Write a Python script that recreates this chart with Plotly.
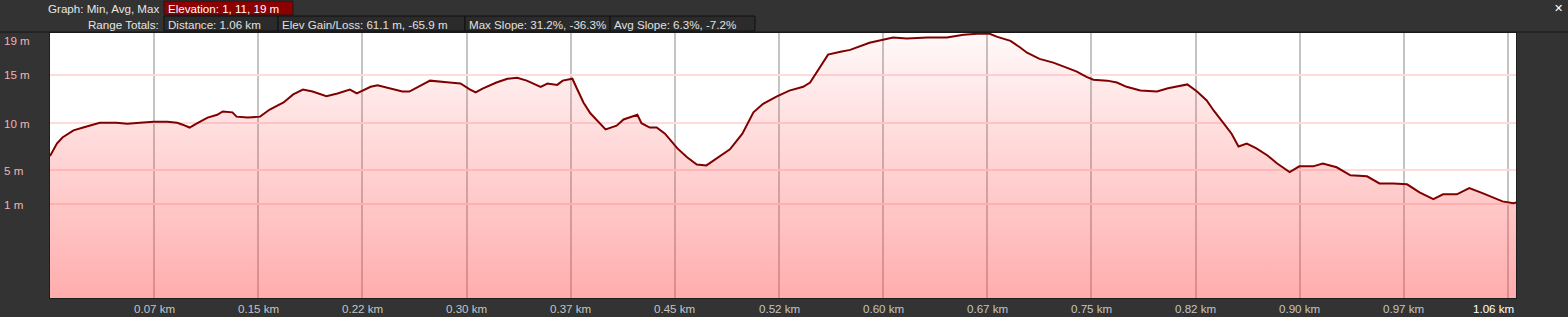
import plotly.graph_objects as go

# ---------------- data ----------------
distance_km = [0.000, 0.005, 0.009, 0.017, 0.024, 0.031, 0.036, 0.048, 0.056, 0.065,
               0.075, 0.085, 0.092, 0.096, 0.101, 0.106, 0.114, 0.121, 0.125, 0.132,
               0.135, 0.143, 0.152, 0.159, 0.169, 0.176, 0.183, 0.190, 0.200, 0.208,
               0.217, 0.222, 0.232, 0.237, 0.248, 0.255, 0.260, 0.268, 0.275, 0.289,
               0.297, 0.304, 0.308, 0.313, 0.323, 0.331, 0.338, 0.345, 0.355, 0.360,
               0.367, 0.371, 0.378, 0.381, 0.386, 0.391, 0.402, 0.410, 0.415, 0.425,
               0.428, 0.434, 0.439, 0.445, 0.454, 0.461, 0.468, 0.475, 0.480, 0.492,
               0.501, 0.509, 0.516, 0.526, 0.535, 0.545, 0.550, 0.557, 0.563, 0.572,
               0.579, 0.593, 0.603, 0.610, 0.620, 0.635, 0.649, 0.661, 0.671, 0.680,
               0.685, 0.695, 0.702, 0.707, 0.716, 0.726, 0.736, 0.743, 0.750, 0.755,
               0.765, 0.772, 0.779, 0.789, 0.801, 0.809, 0.823, 0.830, 0.837, 0.842,
               0.849, 0.855, 0.860, 0.866, 0.873, 0.881, 0.888, 0.897, 0.904, 0.914,
               0.921, 0.931, 0.941, 0.953, 0.962, 0.972, 0.982, 0.991, 1.001, 1.008,
               1.018, 1.027, 1.037, 1.044, 1.051, 1.059, 1.061]
elevation_m = [6.1, 7.4, 8.05, 8.8, 9.1, 9.4, 9.6, 9.6, 9.5, 9.6,
               9.7, 9.7, 9.6, 9.4, 9.1, 9.5, 10.15, 10.45, 10.8, 10.7,
               10.25, 10.15, 10.25, 11.0, 11.75, 12.6, 13.1, 12.9, 12.4, 12.7,
               13.1, 12.7, 13.4, 13.55, 13.2, 12.9, 12.9, 13.55, 14.05, 13.85,
               13.75, 13.1, 12.8, 13.2, 13.85, 14.25, 14.35, 14.05, 13.4, 13.75,
               13.6, 14.05, 14.25, 13.3, 11.75, 10.6, 8.9, 9.3, 9.95, 10.45,
               9.55, 9.1, 9.1, 8.45, 6.9, 5.95, 5.2, 5.1, 5.6, 6.8,
               8.45, 10.7, 11.6, 12.4, 13.0, 13.4, 13.85, 15.4, 16.8, 17.1,
               17.3, 18.05, 18.35, 18.6, 18.5, 18.6, 18.6, 18.9, 19.0, 19.0,
               18.7, 18.25, 17.55, 17.0, 16.35, 15.95, 15.4, 15.0, 14.45, 14.15,
               14.05, 13.85, 13.4, 13.0, 12.9, 13.25, 13.65, 12.9, 11.95, 10.9,
               9.6, 8.45, 7.1, 7.4, 6.9, 6.15, 5.3, 4.4, 5.0, 5.0,
               5.3, 4.9, 4.05, 3.95, 3.2, 3.2, 3.1, 2.25, 1.55, 2.05,
               2.05, 2.7, 2.15, 1.75, 1.3, 1.1, 1.2]

x_tick_km = [0.07536 * i for i in range(1, 15)]
x_tick_text = ["0.07 km", "0.15 km", "0.22 km", "0.30 km", "0.37 km", "0.45 km",
               "0.52 km", "0.60 km", "0.67 km", "0.75 km", "0.82 km", "0.90 km",
               "0.97 km", "1.06 km"]
y_tick_m = [14.68, 9.53, 4.58, 1.0]
y_tick_text = ["15 m", "10 m", "5 m", "1 m"]
y_top_label = "19 m"
y_top_m = 19.0
y_bottom_m = -8.9
x_end_km = 1.0608

header_graph = "Graph: Min, Avg, Max"
header_elev = "Elevation: 1, 11, 19 m"
header_range = "Range Totals:"
range_boxes = ["Distance: 1.06 km", "Elev Gain/Loss: 61.1 m, -65.9 m",
               "Max Slope: 31.2%, -36.3%", "Avg Slope: 6.3%, -7.2%"]

# ---------------- layout geometry (pixels) ----------------
W, H = 1568, 317
L, R, T, B = 50, 1516, 33, 298
FONT = "Liberation Sans, Arial, sans-serif"
FS = 11.6


def pxx(x):
    return (x - L) / (R - L)


def pxy(y):
    return (B - y) / (B - T)


fig = go.Figure()

# baseline for the fill (bottom of plot)
fig.add_trace(go.Scatter(
    x=[distance_km[0], distance_km[-1]], y=[y_bottom_m, y_bottom_m],
    mode="lines", line=dict(width=0, color="rgba(0,0,0,0)"),
    hoverinfo="skip", showlegend=False))

fig.add_trace(go.Scatter(
    x=distance_km, y=elevation_m, mode="lines",
    line=dict(color="#800000", width=2),
    fill="tonexty",
    fillgradient=dict(type="vertical",
                      colorscale=[[0, "rgba(255,60,60,0.42)"],
                                  [1, "rgba(255,60,60,0.03)"]],
                      start=y_bottom_m, stop=y_top_m),
    showlegend=False))

shapes = []
annotations = []

# separator line under header
shapes.append(dict(type="line", xref="paper", yref="paper",
                   x0=pxx(0), x1=pxx(W), y0=pxy(32), y1=pxy(32),
                   line=dict(color="#151515", width=1)))

# header row 1
annotations.append(dict(xref="paper", yref="paper", x=pxx(161), y=pxy(8),
                        xanchor="right", yanchor="middle", showarrow=False,
                        text=header_graph, font=dict(family=FONT, size=FS, color="#e6e6e6")))
shapes.append(dict(type="rect", xref="paper", yref="paper",
                   x0=pxx(164), x1=pxx(293), y0=pxy(15), y1=pxy(1),
                   fillcolor="#8b0000", line=dict(color="#1a1a1a", width=1)))
annotations.append(dict(xref="paper", yref="paper", x=pxx(166), y=pxy(8),
                        xanchor="left", yanchor="middle", showarrow=False,
                        text=header_elev, font=dict(family=FONT, size=FS, color="#ffffff")))

# header row 2
annotations.append(dict(xref="paper", yref="paper", x=pxx(161), y=pxy(24),
                        xanchor="right", yanchor="middle", showarrow=False,
                        text=header_range, font=dict(family=FONT, size=FS, color="#e6e6e6")))
edges = [164, 278, 465, 610, 755]
for i, txt in enumerate(range_boxes):
    shapes.append(dict(type="rect", xref="paper", yref="paper",
                       x0=pxx(edges[i]), x1=pxx(edges[i + 1]), y0=pxy(31), y1=pxy(16),
                       fillcolor="#2b2b2b", line=dict(color="#111111", width=1)))
    annotations.append(dict(xref="paper", yref="paper", x=pxx(edges[i] + 2), y=pxy(24),
                            xanchor="left", yanchor="middle", showarrow=False,
                            text=txt, font=dict(family=FONT, size=FS, color="#e0e0e0")))

# close icon
annotations.append(dict(xref="paper", yref="paper", x=pxx(1558), y=pxy(8),
                        xanchor="center", yanchor="middle", showarrow=False,
                        text="<b>✕</b>", font=dict(family="DejaVu Sans", size=11, color="#ffffff")))

# y labels (left aligned at the image edge)
annotations.append(dict(xref="paper", yref="paper", x=pxx(2), y=pxy(40),
                        xanchor="left", yanchor="middle", showarrow=False,
                        text=y_top_label, font=dict(family=FONT, size=FS, color="#f0b4b4")))
for v, t in zip(y_tick_m, y_tick_text):
    annotations.append(dict(xref="paper", yref="y", x=pxx(2), y=v,
                            xanchor="left", yanchor="middle", showarrow=False,
                            text=t, font=dict(family=FONT, size=FS, color="#f0b4b4")))

# x labels
for i, (v, t) in enumerate(zip(x_tick_km, x_tick_text)):
    last = i == len(x_tick_km) - 1
    annotations.append(dict(
        xref="x" if not last else "paper", yref="paper",
        x=v if not last else 1.0, y=pxy(308),
        xanchor="center" if not last else "right", yanchor="middle", showarrow=False,
        text=t, font=dict(family=FONT, size=FS, color="#ffffff" if last else "#c4c4c4")))

fig.update_layout(
    width=W, height=H,
    margin=dict(l=L, r=W - R, t=T, b=H - B, pad=0),
    paper_bgcolor="#333333", plot_bgcolor="#ffffff",
    shapes=shapes, annotations=annotations,
    showlegend=False,
    xaxis=dict(range=[0, x_end_km], tickvals=x_tick_km, showticklabels=False,
               showgrid=True, gridcolor="#c4c4c4", gridwidth=2, zeroline=False,
               showline=True, mirror=True, linecolor="#1e1e1e", linewidth=1,
               ticks="", fixedrange=True),
    yaxis=dict(range=[y_bottom_m, y_top_m + 0.08], tickvals=y_tick_m, showticklabels=False,
               showgrid=True, gridcolor="#ffdcdc", gridwidth=2, zeroline=False,
               showline=True, mirror=True, linecolor="#1e1e1e", linewidth=1,
               ticks="", fixedrange=True),
)

fig.write_html("out.html")
